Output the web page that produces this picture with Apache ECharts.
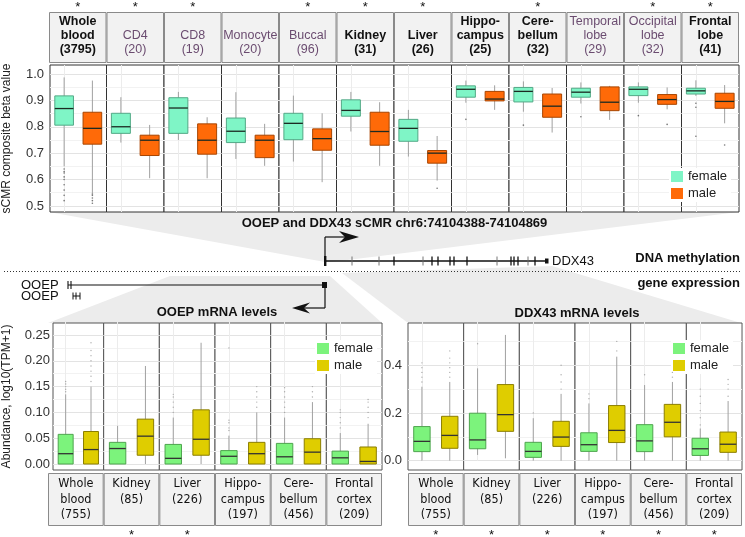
<!DOCTYPE html>
<html><head><meta charset="utf-8">
<script src="https://cdn.jsdelivr.net/npm/echarts@6/dist/echarts.min.js"></script>
<style>html,body{margin:0;padding:0;background:#fff}#c{width:745px;height:537px}</style>
</head><body><div id="c"></div>
<script>
// ---------------- DATA ----------------
const sexes = ['female', 'male'];

// Top panel: sCMR composite beta value (methylation)
const topHeaders = [['Whole','blood','(3795)'],['CD4','(20)'],['CD8','(19)'],['Monocyte','(20)'],['Buccal','(96)'],['Kidney','(31)'],['Liver','(26)'],['Hippo-','campus','(25)'],['Cere-','bellum','(32)'],['Temporal','lobe','(29)'],['Occipital','lobe','(32)'],['Frontal','lobe','(41)']];
const topBold = [true,false,false,false,false,true,true,true,true,false,false,true];
const topStar = [true,true,true,false,true,true,true,false,true,false,true,true];
// [lower whisker, Q1, median, Q3, upper whisker]
const topFemale = [
  [0.650,0.806,0.869,0.917,0.987],
  [0.740,0.775,0.800,0.851,0.912],
  [0.750,0.775,0.871,0.910,0.932],
  [0.678,0.740,0.783,0.833,0.931],
  [0.668,0.751,0.813,0.851,0.918],
  [0.782,0.840,0.862,0.902,0.932],
  [0.687,0.745,0.794,0.828,0.864],
  [0.891,0.912,0.942,0.955,0.975],
  [0.857,0.894,0.934,0.949,0.972],
  [0.888,0.912,0.931,0.946,0.968],
  [0.891,0.918,0.942,0.951,0.968],
  [0.917,0.924,0.936,0.946,0.976]];
const topMale = [
  [0.548,0.734,0.794,0.855,0.975],
  [0.605,0.691,0.749,0.768,0.807],
  [0.605,0.696,0.749,0.811,0.836],
  [0.652,0.683,0.749,0.768,0.811],
  [0.590,0.711,0.755,0.792,0.851],
  [0.652,0.730,0.782,0.855,0.893],
  [0.596,0.662,0.700,0.710,0.765],
  [0.864,0.898,0.905,0.934,0.957],
  [0.778,0.836,0.878,0.924,0.947],
  [0.826,0.861,0.893,0.951,0.955],
  [0.866,0.885,0.903,0.922,0.949],
  [0.813,0.870,0.896,0.927,0.958]];
const topFemaleOut = [[0.64,0.63,0.625,0.61,0.60,0.58,0.56,0.54,0.52],[],[],[],[],[],[],[0.828],[0.806],[0.838],[0.842],[0.889,0.874,0.764]];
const topMaleOut = [[0.545,0.54,0.53,0.52,0.51],[],[],[],[],[],[0.567],[],[],[],[0.809],[0.731]];
const topTicks = [0.5,0.6,0.7,0.8,0.9,1.0];
const topGrid = [0.5,0.55,0.6,0.65,0.7,0.75,0.8,0.85,0.9,0.95,1.0];

// Bottom panels: mRNA levels
const bottomHeaders = [['Whole','blood','(755)'],['Kidney','(85)'],['Liver','(226)'],['Hippo-','campus','(197)'],['Cere-','bellum','(456)'],['Frontal','cortex','(209)']];
const ooepStar = [false,true,true,false,false,false];
const ddxStar = [true,true,true,true,true,true];

const ooepFemale = [
  [0,0,0.020,0.0575,0.135],
  [0,0,0.030,0.042,0.074],
  [0,0,0.011,0.038,0.090],
  [0,0,0.015,0.026,0.055],
  [0,0,0.014,0.040,0.090],
  [0,0,0.012,0.025,0.060]];
const ooepMale = [
  [0,0,0.028,0.063,0.150],
  [0,0.017,0.054,0.087,0.190],
  [0,0.017,0.048,0.105,0.235],
  [0,0,0.020,0.042,0.100],
  [0,0,0.023,0.049,0.120],
  [0,0,0.005,0.033,0.078]];
const ooepFemaleOut = [[0.14,0.145,0.15,0.155,0.16],[],[0.10,0.11,0.12,0.13,0.135],[0.065,0.07,0.08,0.085,0.225],[0.10,0.11,0.12,0.13,0.14,0.148],[0.07,0.08,0.09,0.10,0.105]];
const ooepMaleOut = [[0.16,0.17,0.18,0.19,0.20,0.21,0.22,0.235],[],[],[0.11,0.12,0.13,0.14,0.15],[0.13,0.14,0.15],[0.09,0.10,0.11,0.12,0.125]];
const ooepTicks = [0,0.05,0.1,0.15,0.2,0.25];
const ooepGrid = [0,0.025,0.05,0.075,0.1,0.125,0.15,0.175,0.2,0.225,0.25];

const ddxFemale = [
  [0,0.038,0.081,0.143,0.310],
  [0.024,0.050,0.087,0.199,0.387],
  [0,0.014,0.039,0.077,0.178],
  [0,0.039,0.067,0.117,0.240],
  [0,0.038,0.083,0.151,0.317],
  [0,0.022,0.050,0.094,0.135]];
const ddxMale = [
  [0,0.052,0.106,0.186,0.330],
  [0.010,0.123,0.193,0.319,0.527],
  [0,0.060,0.099,0.165,0.280],
  [0,0.076,0.127,0.231,0.436],
  [0,0.100,0.161,0.236,0.330],
  [0,0.035,0.069,0.120,0.250]];
const ddxFemaleOut = [[0.33,0.35,0.37,0.39,0.41],[0.49],[0.20],[0.26,0.28],[0.36],[0.15,0.18,0.21,0.24,0.27,0.30]];
const ddxMaleOut = [[0.35,0.37,0.39,0.41,0.43,0.46],[],[0.30,0.33,0.36,0.40],[0.46,0.50],[0.35,0.37],[0.27,0.30,0.32,0.34]];
const ddxTicks = [0,0.2,0.4];
const ddxGrid = [0,0.1,0.2,0.3,0.4,0.5];

// ---------------- BUILD ----------------
const FONT = "'Liberation Sans', Arial, Helvetica, sans-serif";
const NARROW = "'Liberation Sans Narrow', 'DejaVu Sans Condensed', 'Liberation Sans', sans-serif";
const grids = [], xAxes = [], yAxes = [], series = [], G = [];

function boxRender(fill, stroke, ratio, med) {
  return function (params, api) {
    const x = api.value(0);
    const lo = api.coord([x, api.value(1)]);
    const q1 = api.coord([x, api.value(2)]);
    const md = api.coord([x, api.value(3)]);
    const q3 = api.coord([x, api.value(4)]);
    const hi = api.coord([x, api.value(5)]);
    const bw = api.size([1, 0])[0] * ratio;
    const cx = md[0];
    return { type: 'group', children: [
      { type: 'line', shape: { x1: cx, y1: hi[1], x2: cx, y2: lo[1] }, style: { stroke: '#a0a0a0', lineWidth: 1 } },
      { type: 'rect', shape: { x: cx - bw / 2, y: q3[1], width: bw, height: Math.max(q1[1] - q3[1], 0.5) }, style: { fill: fill, stroke: stroke, lineWidth: 1 } },
      { type: 'line', shape: { x1: cx - bw / 2, y1: md[1], x2: cx + bw / 2, y2: md[1] }, style: { stroke: med, lineWidth: 1.3 } }
    ]};
  };
}

function addFacet(o) {
  const gi = grids.length;
  grids.push({ left: o.left, top: o.top, width: o.width, height: o.height, show: true,
    backgroundColor: '#fff', borderColor: o.border, borderWidth: 1 });
  xAxes.push({ type: 'category', gridIndex: gi, data: sexes, boundaryGap: true,
    axisLine: { show: false }, axisLabel: { show: false },
    axisTick: { show: true, alignWithLabel: true, inside: true, length: o.height, lineStyle: { color: '#ececec', width: 1 } },
    splitLine: { show: false } });
  yAxes.push({ type: 'value', gridIndex: gi, min: o.ymin, max: o.ymax,
    axisLine: { show: false },
    axisTick: { show: false, customValues: o.gridVals },
    axisLabel: { show: o.showLabels, customValues: o.labelVals, formatter: o.fmt, fontSize: 13, color: '#333', margin: o.margin, fontFamily: FONT },
    splitLine: { show: true, lineStyle: { color: ['#e3e3e3', '#f2f2f2'], width: 1 } },
    name: o.yName || '', nameLocation: 'middle', nameGap: o.nameGap || 0, nameRotate: 90,
    nameTextStyle: { fontSize: 12, color: '#222', fontFamily: FONT } });
  series.push({ type: 'custom', name: o.names[0], xAxisIndex: gi, yAxisIndex: gi, z: 3,
    itemStyle: { color: o.c.f }, renderItem: boxRender(o.c.f, o.c.fs, o.ratio, o.c.med),
    encode: { x: 0, y: [1, 2, 3, 4, 5] }, data: [[0].concat(o.f)] });
  series.push({ type: 'custom', name: o.names[1], xAxisIndex: gi, yAxisIndex: gi, z: 3,
    itemStyle: { color: o.c.m }, renderItem: boxRender(o.c.m, o.c.ms, o.ratio, o.c.med),
    encode: { x: 0, y: [1, 2, 3, 4, 5] }, data: [[1].concat(o.m)] });
  series.push({ type: 'scatter', xAxisIndex: gi, yAxisIndex: gi, z: 4, silent: true,
    symbolSize: o.dot, itemStyle: { color: o.dotColor },
    data: o.fOut.map(v => [0, v]).concat(o.mOut.map(v => [1, v])) });
}

// ---- wedges (background shading) ----
G.push({ type: 'polygon', z: -10, shape: { points: [[49,212],[739,212],[331,262],[325,262]] }, style: { fill: '#ececec' } });
G.push({ type: 'polygon', z: -10, shape: { points: [[170,276],[330,276],[382,323],[48,323]] }, style: { fill: '#ececec' } });
G.push({ type: 'polygon', z: -10, shape: { points: [[342,273],[552,266],[741,323],[408,323]] }, style: { fill: '#ececec' } });

// ---- top facets ----
const TOPC = { f: '#7ff5c6', fs: '#52a886', m: '#ff6a08', ms: '#a84500', med: '#1c2a22' };
const tL = 49, tW = 57.5, tT = 65, tH = 147;
topHeaders.forEach((h, i) => {
  addFacet({ left: tL + i * tW, top: tT, width: tW, height: tH, ymin: 0.477, ymax: 1.034,
    gridVals: topGrid, labelVals: topTicks, fmt: v => v.toFixed(1), showLabels: i === 0, margin: 6,
    yName: i === 0 ? 'sCMR composite beta value' : '', nameGap: 37,
    f: topFemale[i], m: topMale[i], fOut: topFemaleOut[i], mOut: topMaleOut[i],
    c: TOPC, ratio: 0.66, names: ['f_top', 'm_top'], dot: 1.6, dotColor: '#555', border: '#333' });
  const x0 = tL + i * tW;
  G.push({ type: 'rect', z: 5, shape: { x: x0 + 0.5, y: 12.5, width: tW - 1, height: 50 }, style: { fill: '#f2f2f2', stroke: '#8a8a8a', lineWidth: 1 } });
  const n = h.length;
  h.forEach((t, k) => {
    G.push({ type: 'text', z: 6, x: x0 + tW / 2, y: 50 - (n - 1 - k) * 14,
      style: { text: t, align: 'center', verticalAlign: 'middle', fill: topBold[i] ? '#111' : '#6b4c70',
        font: (topBold[i] ? 'bold ' : '') + '12.5px ' + FONT } });
  });
  if (topStar[i]) G.push({ type: 'text', z: 6, x: x0 + tW / 2, y: 7, style: { text: '*', align: 'center', verticalAlign: 'middle', fill: '#111', font: '13px ' + FONT } });
});

// ---- bottom facets ----
const BOTC = { f: '#7cf37c', fs: '#4ea44e', m: '#dfcd00', ms: '#8b7e00', med: '#333' };
const bT = 323, bH = 147, bW = 55.67;
function addBottom(left, fArr, mArr, fOut, mOut, ymin, ymax, gridVals, labelVals, fmt, names, yName, margin, stars) {
  bottomHeaders.forEach((h, i) => {
    addFacet({ left: left + i * bW, top: bT, width: bW, height: bH, ymin: ymin, ymax: ymax,
      gridVals: gridVals, labelVals: labelVals, fmt: fmt, showLabels: i === 0, margin: margin,
      yName: i === 0 ? yName : '', nameGap: 40,
      f: fArr[i], m: mArr[i], fOut: fOut[i], mOut: mOut[i],
      c: BOTC, ratio: 0.59, names: names, dot: 1.4, dotColor: '#9a9a9a', border: '#555' });
    const x0 = left + i * bW;
    G.push({ type: 'rect', z: 5, shape: { x: x0 + 0.5, y: 473.5, width: bW - 1, height: 52 }, style: { fill: '#f2f2f2', stroke: '#8a8a8a', lineWidth: 1 } });
    h.forEach((t, k) => {
      G.push({ type: 'text', z: 6, x: x0 + bW / 2, y: 484 + k * 15.5,
        style: { text: t, align: 'center', verticalAlign: 'middle', fill: '#111', font: '12.5px ' + NARROW } });
    });
    if (stars[i]) G.push({ type: 'text', z: 6, x: x0 + bW / 2, y: 535, style: { text: '*', align: 'center', verticalAlign: 'middle', fill: '#111', font: '13px ' + FONT } });
  });
}
addBottom(48, ooepFemale, ooepMale, ooepFemaleOut, ooepMaleOut, -0.0116, 0.2733, ooepGrid, ooepTicks, v => v.toFixed(2), ['f_ooep', 'm_ooep'], 'Abundance, log10(TPM+1)', 3, ooepStar);
addBottom(408, ddxFemale, ddxMale, ddxFemaleOut, ddxMaleOut, -0.039, 0.577, ddxGrid, ddxTicks, v => v.toFixed(1), ['f_ddx', 'm_ddx'], '', 6, ddxStar);

// ---- gene diagram ----
const K = '#111';
function ln(x1, y1, x2, y2, w, c) { G.push({ type: 'line', z: 6, shape: { x1, y1, x2, y2 }, style: { stroke: c || K, lineWidth: w || 1.2 } }); }
function tx(t, x, y, align, font) { G.push({ type: 'text', z: 6, x, y, style: { text: t, align, verticalAlign: 'middle', fill: K, font } }); }

tx('OOEP and DDX43 sCMR chr6:74104388-74104869', 394.5, 223, 'center', 'bold 13px ' + FONT);
// promoter arrow
ln(325, 262, 325, 237); ln(325, 237, 350, 237);
G.push({ type: 'polygon', z: 6, shape: { points: [[359,237],[339,231],[345,237],[339,243]] }, style: { fill: K } });
// DDX43 gene
ln(325, 261, 546, 261, 1.3);
G.push({ type: 'rect', z: 6, shape: { x: 324, y: 256, width: 2.4, height: 10 }, style: { fill: K } });
[[352,0],[379,0],[394,1],[423,0],[432,1],[438,1],[450,1],[454,1],[467,1],[497,0],[511,1],[514,1],[518,1],[528,0],[535,1]].forEach(e => {
  ln(e[0], 256.5, e[0], 265.5, e[1] ? 1.3 : 0.9, e[1] ? K : '#666');
});
G.push({ type: 'rect', z: 6, shape: { x: 545, y: 258.5, width: 3.5, height: 5 }, style: { fill: K } });
tx('DDX43', 552, 261, 'left', '13px ' + FONT);
tx('DNA methylation', 740, 258, 'right', 'bold 13px ' + FONT);
G.push({ type: 'line', z: 6, shape: { x1: 4, y1: 271.5, x2: 741, y2: 271.5 }, style: { stroke: '#333', lineWidth: 1, lineDash: [1, 2] } });
tx('gene expression', 740, 283, 'right', 'bold 13px ' + FONT);
// OOEP genes
tx('OOEP', 21, 285, 'left', '13px ' + FONT);
tx('OOEP', 21, 296, 'left', '13px ' + FONT);
ln(68, 285, 325, 285, 1.2);
ln(68, 281, 68, 289, 1.1); ln(71, 281, 71, 289, 1.1);
G.push({ type: 'rect', z: 6, shape: { x: 322, y: 282, width: 5, height: 6 }, style: { fill: K } });
ln(73, 296, 80, 296, 1); ln(73, 292.5, 73, 299.5, 1); ln(76, 292.5, 76, 299.5, 1); ln(80, 292.5, 80, 299.5, 1);
// reverse arrow to OOEP
ln(325, 288, 325, 308); ln(325, 308, 302, 308);
G.push({ type: 'polygon', z: 6, shape: { points: [[292,308],[310,302.5],[304,308],[310,313.5]] }, style: { fill: K } });
tx('OOEP mRNA levels', 217, 312, 'center', 'bold 13px ' + FONT);
tx('DDX43 mRNA levels', 577, 313, 'center', 'bold 13px ' + FONT);

// ---- legends ----
const legFmt = n => (n[0] === 'f' ? 'female' : 'male');
function leg(names, left, top) {
  return { data: names, orient: 'vertical', left: left, top: top, itemWidth: 12, itemHeight: 11, itemGap: 4,
    icon: 'rect', formatter: legFmt, selectedMode: false, padding: [2, 4, 2, 2], backgroundColor: '#fff',
    itemStyle: { borderWidth: 0 }, textStyle: { fontSize: 13, color: '#222', fontFamily: FONT } };
}

const chart = echarts.init(document.getElementById('c'));
chart.setOption({
  animation: false,
  backgroundColor: '#fff',
  grid: grids, xAxis: xAxes, yAxis: yAxes, series: series,
  legend: [leg(['f_top', 'm_top'], 669, 168), leg(['f_ooep', 'm_ooep'], 315, 340), leg(['f_ddx', 'm_ddx'], 671, 340)],
  graphic: { elements: G }
});
</script>
</body></html>
